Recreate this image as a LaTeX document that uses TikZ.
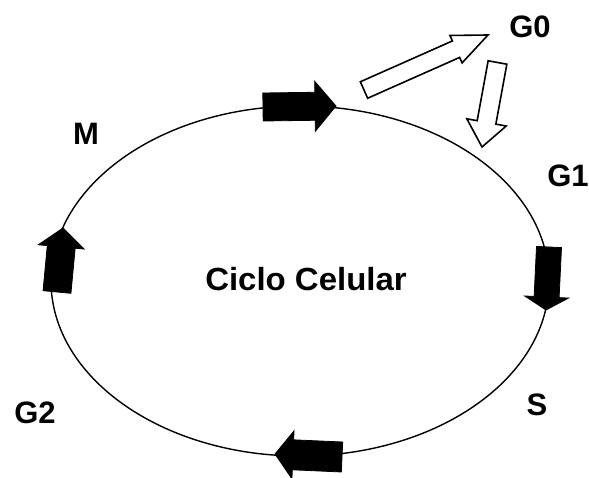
\documentclass[tikz,border=0pt]{standalone}
\usepackage{fontspec}
\setmainfont{Liberation Sans}
\usetikzlibrary{calc}
\tikzset{
  lbl/.style={font=\bfseries\fontsize{31}{31}\selectfont, inner sep=0pt, anchor=center},
  title/.style={font=\bfseries\fontsize{32}{32}\selectfont, inner sep=0pt, anchor=center, xscale=1.03},
  cycle/.style={draw=black, line width=1.4pt},
  blackarrow/.style={fill=black, draw=black, line width=0.8pt, line join=miter},
  whitearrow/.style={fill=white, draw=black, line width=1.6pt, line join=miter}
}
% #1 tail, #2 tip, #3 shaft half-width, #4 head length, #5 head half-width, #6 style
\newcommand{\fatarrowshape}[6]{%
  \path[#6] ($(#1)!#3!90:(#2)$)
    -- ($($(#2)!#4!(#1)$)!#3!-90:(#1)$)
    -- ($($(#2)!#4!(#1)$)!#5!-90:(#1)$)
    -- (#2)
    -- ($($(#2)!#4!(#1)$)!#5!90:(#1)$)
    -- ($($(#2)!#4!(#1)$)!#3!90:(#1)$)
    -- ($(#1)!#3!-90:(#2)$) -- cycle;%
}
\begin{document}
\begin{tikzpicture}[x=1pt, y=-1pt]
\useasboundingbox[fill=white] (0,0) rectangle (589,478);
% cycle
\draw[cycle] (300,281) ellipse [x radius=249, y radius=175];
% arrow anchor coordinates
\coordinate (topT) at (263,107);
\coordinate (topP) at (336,106);
\coordinate (rightT) at (549,247);
\coordinate (rightP) at (546,310);
\coordinate (botT) at (342,457);
\coordinate (botP) at (275,454);
\coordinate (leftT) at (57,292);
\coordinate (leftP) at (63,228);
\coordinate (g0T) at (364,90);
\coordinate (g0P) at (488,35);
\coordinate (g1T) at (497.5,62.5);
\coordinate (g1P) at (482,147);
% black cycle arrows
\fatarrowshape{topT}{topP}{14pt}{21pt}{25pt}{blackarrow}
\fatarrowshape{rightT}{rightP}{12.5pt}{13pt}{22pt}{blackarrow}
\fatarrowshape{botT}{botP}{15pt}{18pt}{24pt}{blackarrow}
\fatarrowshape{leftT}{leftP}{14pt}{19pt}{23pt}{blackarrow}
% white arrows to/from G0
\fatarrowshape{g0T}{g0P}{9pt}{35pt}{15pt}{whitearrow}
\fatarrowshape{g1T}{g1P}{9.5pt}{25pt}{20pt}{whitearrow}
% labels
\node[title] (cc) at (306,279) {Ciclo Celular};
\node[lbl] (g0) at (530,27) {G0};
\node[lbl] (g1) at (568,176) {G1};
\node[lbl] (m) at (86,134) {M};
\node[lbl] (s) at (537,405) {S};
\node[lbl] (g2) at (35,413) {G2};
\end{tikzpicture}
\end{document}
